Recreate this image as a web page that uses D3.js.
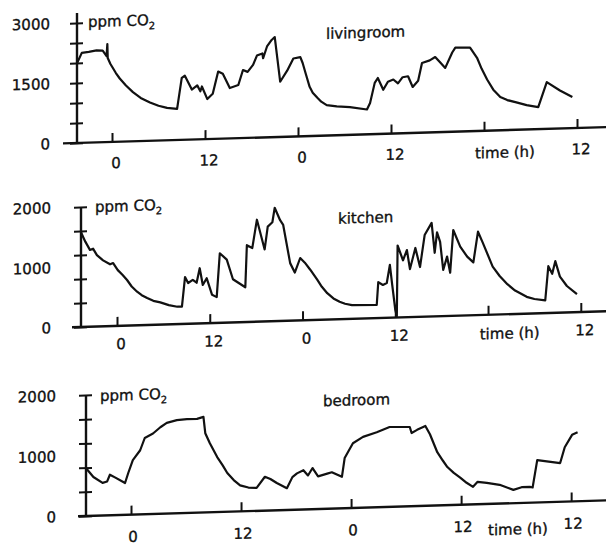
<!DOCTYPE html>
<html><head><meta charset="utf-8">
<script src="https://cdn.jsdelivr.net/npm/d3@7/dist/d3.min.js"></script>
<style>
body{margin:0;background:#fff}
text{font-family:"DejaVu Sans",sans-serif;fill:#111;stroke:#111;stroke-width:0.35}
</style>
</head><body>
<svg id="c" width="606" height="546"></svg>
<script>
// ---------- data (hours, ppm CO2) ----------
const livingHours = [-4.5,-3.9,-3.0,-2.0,-1.2,-0.7,-0.6,-0.55,-0.2,0.5,1.0,1.8,2.7,3.7,4.9,6.0,7.1,8.4,9.0,9.4,10.3,11.0,11.4,11.6,12.3,13.0,13.7,14.3,15.2,16.3,16.9,17.5,18.2,18.7,19.4,19.5,20.0,20.6,21.0,21.7,22.6,23.4,24.3,24.6,25.0,25.5,25.9,26.5,27.0,27.7,29.0,30.7,32.9,33.3,33.9,34.3,35.0,35.6,36.3,36.9,37.5,38.2,38.8,39.5,40.0,41.0,41.7,42.3,43.0,43.9,44.3,46.2,47.1,47.7,48.4,49.2,50.1,51.0,52.3,53.5,55.0,56.1,57.8,59.4];
const livingCO2  = [2000,2250,2270,2300,2290,2150,2450,2100,1950,1720,1580,1400,1230,1080,960,870,810,780,1550,1600,1250,1350,1200,1320,1000,1130,1680,1620,1260,1330,1700,1650,1820,2050,2100,1980,2270,2430,2500,1380,1650,1950,1980,1830,1560,1230,1080,950,850,760,720,690,620,780,1280,1400,1100,1300,1350,1250,1400,1420,1150,1300,1740,1800,1880,1750,1600,1980,2100,2090,1830,1550,1280,1020,830,750,680,610,550,1170,950,780];

const kitchenHours = [-4.66,-4.1,-3.5,-3.1,-2.6,-1.8,-0.9,-0.5,0.1,0.7,1.3,1.9,2.6,3.2,3.9,4.7,5.6,6.7,7.8,8.4,8.8,9.2,9.8,10.3,10.7,11.1,11.6,12.3,12.9,13.3,14.2,15.0,16.6,16.8,17.5,18.1,19.1,19.5,20.1,20.4,21.1,21.5,22.4,23.0,23.7,24.3,25.0,25.9,26.5,27.2,28.0,28.8,29.5,30.4,33.6,33.8,34.4,34.9,35.3,35.6,36.0,36.2,36.3,37.0,37.5,37.9,38.6,39.2,39.8,40.7,41.1,41.4,41.8,42.2,42.7,43.1,43.5,44.4,45.3,46.1,46.7,47.3,48.6,49.5,50.5,51.5,53.0,54.0,55.4,55.8,56.3,56.7,57.3,58.2,59.5];
const kitchenCO2  = [1580,1420,1280,1300,1190,1100,1030,1050,930,850,760,650,560,500,450,400,370,320,290,290,780,680,730,680,920,640,750,470,430,1160,1050,720,580,1280,1230,1700,1200,1580,1650,1890,1680,1600,960,800,1040,960,840,670,550,440,350,290,255,230,220,600,550,580,880,550,130,20,1200,950,1120,800,1150,830,1360,1560,1060,1400,1240,770,990,720,1430,1150,980,880,1390,1210,800,640,500,390,280,240,210,780,650,860,600,440,300];

const bedroomHours = [-4.9,-4.1,-3.1,-2.6,-2.3,-1.7,-0.65,-0.3,0.2,1.0,1.5,2.4,3.2,3.9,5.0,6.1,7.2,7.9,8.1,8.6,9.4,10.0,10.5,11.2,11.9,12.8,13.7,14.6,15.2,15.9,17.0,17.6,18.1,18.8,19.3,19.8,20.4,21.4,21.9,23.0,23.3,24.2,25.3,26.8,28.2,30.4,30.6,31.2,32.1,32.6,33.4,34.0,34.5,35.2,35.9,36.6,37.3,37.8,38.8,40.2,41.7,42.6,43.5,43.8,44.3,46.8,47.3,48.1,48.7];
const bedroomCO2  = [790,640,540,560,670,620,525,690,900,1060,1260,1330,1430,1500,1540,1550,1550,1580,1310,1140,910,770,640,520,430,390,380,560,520,450,360,540,600,650,560,680,540,580,600,520,830,1070,1170,1240,1320,1310,1210,1260,1320,1180,880,740,630,530,450,360,290,370,350,310,220,260,260,250,700,640,900,1100,1140];

const livingYTicks = [0,500,1000,1500,2000,2500,3000];
const livingYLabels = [0,1500,3000];
const kitchenYTicks = [0,400,800,1200,1600,2000];
const kitchenYLabels = [0,1000,2000];
const bedroomYTicks = [0,400,800,1200,1600,2000];
const bedroomYLabels = [0,1000,2000];

const livingXTicks = [0,12,24,36,48,60];
const livingXLabels = ["0","12","0","12","","12"];
const kitchenXTicks = [0,12,24,36,48,60];
const kitchenXLabels = ["0","12","0","12","","12"];
const bedroomXTicks = [0,12,24,36,48];
const bedroomXLabels = ["0","12","0","12","12"];

const titles = ["livingroom","kitchen","bedroom"];
const timeLabelAt = [50.7, 50.8, 42.2];

// ---------- layout ----------
const panels = [
 {title:titles[0], hours:livingHours, values:livingCO2, yTicks:livingYTicks, yLabels:livingYLabels, xTicks:livingXTicks, xLabels:livingXLabels, tAt:timeLabelAt[0],
  ox:77, oy:143, x0:35, pxh:7.75, yMax:3000, yPx:120, axL:-14, axR:532, yTop:-130, xlabDy:21, xlabDx:4, timeDy:22, ylabX:-27, ppmX:11, ppmY:-121, titleX:249, titleY:-102},
 {title:titles[1], hours:kitchenHours, values:kitchenCO2, yTicks:kitchenYTicks, yLabels:kitchenYLabels, xTicks:kitchenXTicks, xLabels:kitchenXLabels, tAt:timeLabelAt[1],
  ox:81, oy:327, x0:36, pxh:7.73, yMax:2000, yPx:120, axL:-9, axR:528, yTop:-120, xlabDy:18, xlabDx:4, timeDy:19, ylabX:-30, ppmX:14, ppmY:-120, titleX:257, titleY:-101},
 {title:titles[2], hours:bedroomHours, values:bedroomCO2, yTicks:bedroomYTicks, yLabels:bedroomYLabels, xTicks:bedroomXTicks, xLabels:bedroomXLabels, tAt:timeLabelAt[2],
  ox:86, oy:516, x0:45, pxh:9.17, yMax:2000, yPx:121, axL:-8, axR:523, yTop:-121, xlabDy:22, xlabDx:2, timeDy:26, ylabX:-30, ppmX:14, ppmY:-120, titleX:237, titleY:-108}
];

const svg = d3.select("#c");
const ink = "#111";

panels.forEach(p => {
  const g = svg.append("g").attr("transform", `translate(${p.ox},${p.oy}) skewY(-1.72)`);
  const x = d3.scaleLinear().domain([0, 1]).range([p.x0, p.x0 + p.pxh]);
  const y = d3.scaleLinear().domain([0, p.yMax]).range([0, -p.yPx]);

  // x axis
  const xa = g.append("g").call(d3.axisBottom(x).tickValues(p.xTicks).tickSize(-9).tickFormat(""));
  xa.select(".domain").remove();
  xa.selectAll("line").attr("stroke", ink).attr("stroke-width", 2);
  g.append("line").attr("x1", p.axL).attr("x2", p.axR).attr("y1", 0).attr("y2", 0)
    .attr("stroke", ink).attr("stroke-width", 2.4);

  // y axis
  const ya = g.append("g").call(d3.axisLeft(y).tickValues(p.yTicks).tickSize(7).tickFormat(""));
  ya.select(".domain").remove();
  ya.selectAll("line").attr("x1", 6).attr("stroke", ink).attr("stroke-width", 2);
  g.append("line").attr("x1", 0).attr("x2", 0).attr("y1", 1).attr("y2", p.yTop)
    .attr("stroke", ink).attr("stroke-width", 2.4);

  // y labels
  g.selectAll(".yl").data(p.yLabels).join("text")
    .attr("x", p.ylabX).attr("y", d => y(d)).attr("dy", "0.36em")
    .attr("text-anchor", "end").attr("font-size", 15).text(d => d);

  // x labels
  g.selectAll(".xl").data(p.xTicks).join("text")
    .attr("x", d => x(d) + p.xlabDx).attr("y", p.xlabDy).attr("dy", "0.36em")
    .attr("text-anchor", "middle").attr("font-size", 15).text((d, i) => p.xLabels[i]);

  g.append("text").attr("x", x(p.tAt)).attr("y", p.timeDy).attr("dy", "0.36em")
    .attr("text-anchor", "middle").attr("font-size", 15).text("time (h)");

  // ppm CO2
  const t = g.append("text").attr("x", p.ppmX).attr("y", p.ppmY).attr("dy", "0.36em").attr("font-size", 15);
  t.append("tspan").text("ppm CO");
  t.append("tspan").attr("font-size", 10).attr("dy", 4).text("2");

  // title
  g.append("text").attr("x", p.titleX).attr("y", p.titleY).attr("dy", "0.36em")
    .attr("font-size", 15).text(p.title);

  // data line
  const pts = p.hours.map((h, i) => [h, p.values[i]]);
  g.append("path").datum(pts)
    .attr("fill", "none").attr("stroke", ink).attr("stroke-width", 2.2)
    .attr("stroke-linejoin", "round")
    .attr("d", d3.line().x(d => x(d[0])).y(d => y(d[1])));
});
</script>
</body></html>
